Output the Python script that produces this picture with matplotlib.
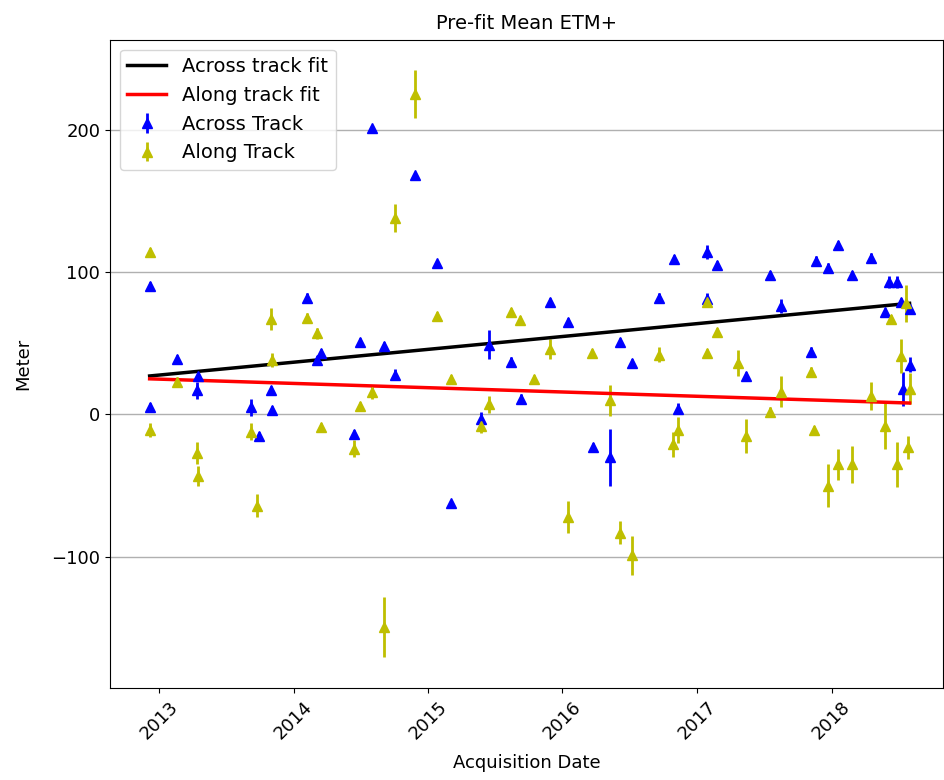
import numpy as np
import pandas as pd
import matplotlib
matplotlib.use('Agg')
import matplotlib.pyplot as plt
import matplotlib.dates as mdates

# decimal year, value [m], error [m]
across_t = [2012.93, 2012.93, 2013.13, 2013.28, 2013.29, 2013.68, 2013.74, 2013.83, 2013.84,
            2014.10, 2014.17, 2014.20, 2014.45, 2014.49, 2014.58, 2014.67, 2014.75, 2014.90,
            2015.07, 2015.17, 2015.39, 2015.45, 2015.62, 2015.69, 2015.91, 2016.04, 2016.23,
            2016.35, 2016.43, 2016.52, 2016.72, 2016.83, 2016.86, 2017.07, 2017.07, 2017.15,
            2017.36, 2017.54, 2017.62, 2017.85, 2017.88, 2017.97, 2018.05, 2018.15, 2018.29,
            2018.40, 2018.43, 2018.49, 2018.52, 2018.53, 2018.58, 2018.58]
across_v = [90, 5, 39, 17, 27, 5, -15, 17, 3,
            82, 38, 43, -14, 51, 201, 48, 28, 168,
            106, -62, -3, 49, 37, 11, 79, 65, -23,
            -30, 51, 36, 82, 109, 4, 114, 81, 105,
            27, 98, 76, 44, 108, 103, 119, 98, 110,
            72, 93, 93, 79, 18, 74, 35]
across_e = [3, 3, 3, 6, 3, 6, 3, 3, 3,
            3, 3, 3, 3, 3, 2, 3, 4, 2,
            2, 2, 5, 10, 3, 3, 3, 3, 3,
            20, 3, 3, 3, 3, 4, 5, 4, 3,
            3, 3, 5, 3, 3, 3, 3, 3, 3,
            3, 4, 4, 3, 12, 3, 5]

along_t = [2012.93, 2012.93, 2013.13, 2013.28, 2013.29, 2013.68, 2013.73, 2013.83, 2013.84,
           2014.10, 2014.17, 2014.20, 2014.45, 2014.49, 2014.58, 2014.67, 2014.75, 2014.90,
           2015.07, 2015.17, 2015.39, 2015.45, 2015.62, 2015.68, 2015.79, 2015.91, 2016.04,
           2016.22, 2016.35, 2016.43, 2016.52, 2016.72, 2016.82, 2016.86, 2017.07, 2017.07,
           2017.15, 2017.30, 2017.36, 2017.54, 2017.62, 2017.85, 2017.87, 2017.97, 2018.05,
           2018.15, 2018.29, 2018.40, 2018.44, 2018.49, 2018.52, 2018.55, 2018.58, 2018.57]
along_v = [114, -11, 23, -27, -43, -12, -64, 67, 38,
           68, 57, -9, -24, 6, 16, -149, 138, 225,
           69, 25, -8, 7, 72, 66, 25, 46, -72,
           43, 10, -83, -99, 42, -21, -11, 79, 43,
           58, 36, -15, 2, 16, 30, -11, -50, -35,
           -35, 13, -8, 67, -35, 41, 78, 18, -23]
along_e = [3, 5, 3, 8, 7, 6, 8, 8, 5,
           3, 4, 3, 6, 3, 5, 21, 10, 17,
           3, 3, 5, 6, 3, 3, 3, 7, 11,
           3, 11, 8, 14, 5, 9, 9, 3, 3,
           3, 9, 12, 3, 11, 3, 3, 15, 11,
           13, 10, 16, 3, 16, 12, 13, 11, 8]

# fit line end points
fit_t = [2012.93, 2018.58]
across_fit = [27, 78]
along_fit = [25, 8]


def to_date(dec_years):
    out = []
    for d in dec_years:
        yr = int(d)
        out.append(pd.Timestamp(f'{yr}-01-01') + pd.Timedelta(days=(d - yr) * 365.25))
    return out


fig = plt.figure(figsize=(9.45, 7.8), dpi=100)
ax = fig.add_axes([0.1164, 0.118, 0.882, 0.831])

ax.errorbar(to_date(across_t), across_v, yerr=across_e, fmt='b^', ms=7.5, elinewidth=2,
            label='Across Track')
ax.errorbar(to_date(along_t), along_v, yerr=along_e, fmt='y^', ms=7.5, elinewidth=2,
            label='Along Track')
ax.plot(to_date(fit_t), across_fit, 'k-', lw=2.5, label='Across track fit')
ax.plot(to_date(fit_t), along_fit, 'r-', lw=2.5, label='Along track fit')

ax.set_xlim(pd.Timestamp('2012-08-20'), pd.Timestamp('2018-11-01'))
ax.set_ylim(-192, 263)
ax.set_yticks([-100, 0, 100, 200])
ax.xaxis.set_major_locator(mdates.YearLocator())
ax.xaxis.set_major_formatter(mdates.DateFormatter('%Y'))
ax.grid(axis='y', color='#b0b0b0', lw=1)
ax.set_axisbelow(True)

plt.setp(ax.get_xticklabels(), rotation=45)
ax.tick_params(labelsize=13)
ax.set_title('Pre-fit Mean ETM+', fontsize=14, pad=8)
ax.set_xlabel('Acquisition Date', fontsize=13, labelpad=8)
ax.set_ylabel('Meter', fontsize=13, labelpad=14)
ax.legend(loc='upper left', fontsize=14)

fig.savefig('out.png', dpi=100)
